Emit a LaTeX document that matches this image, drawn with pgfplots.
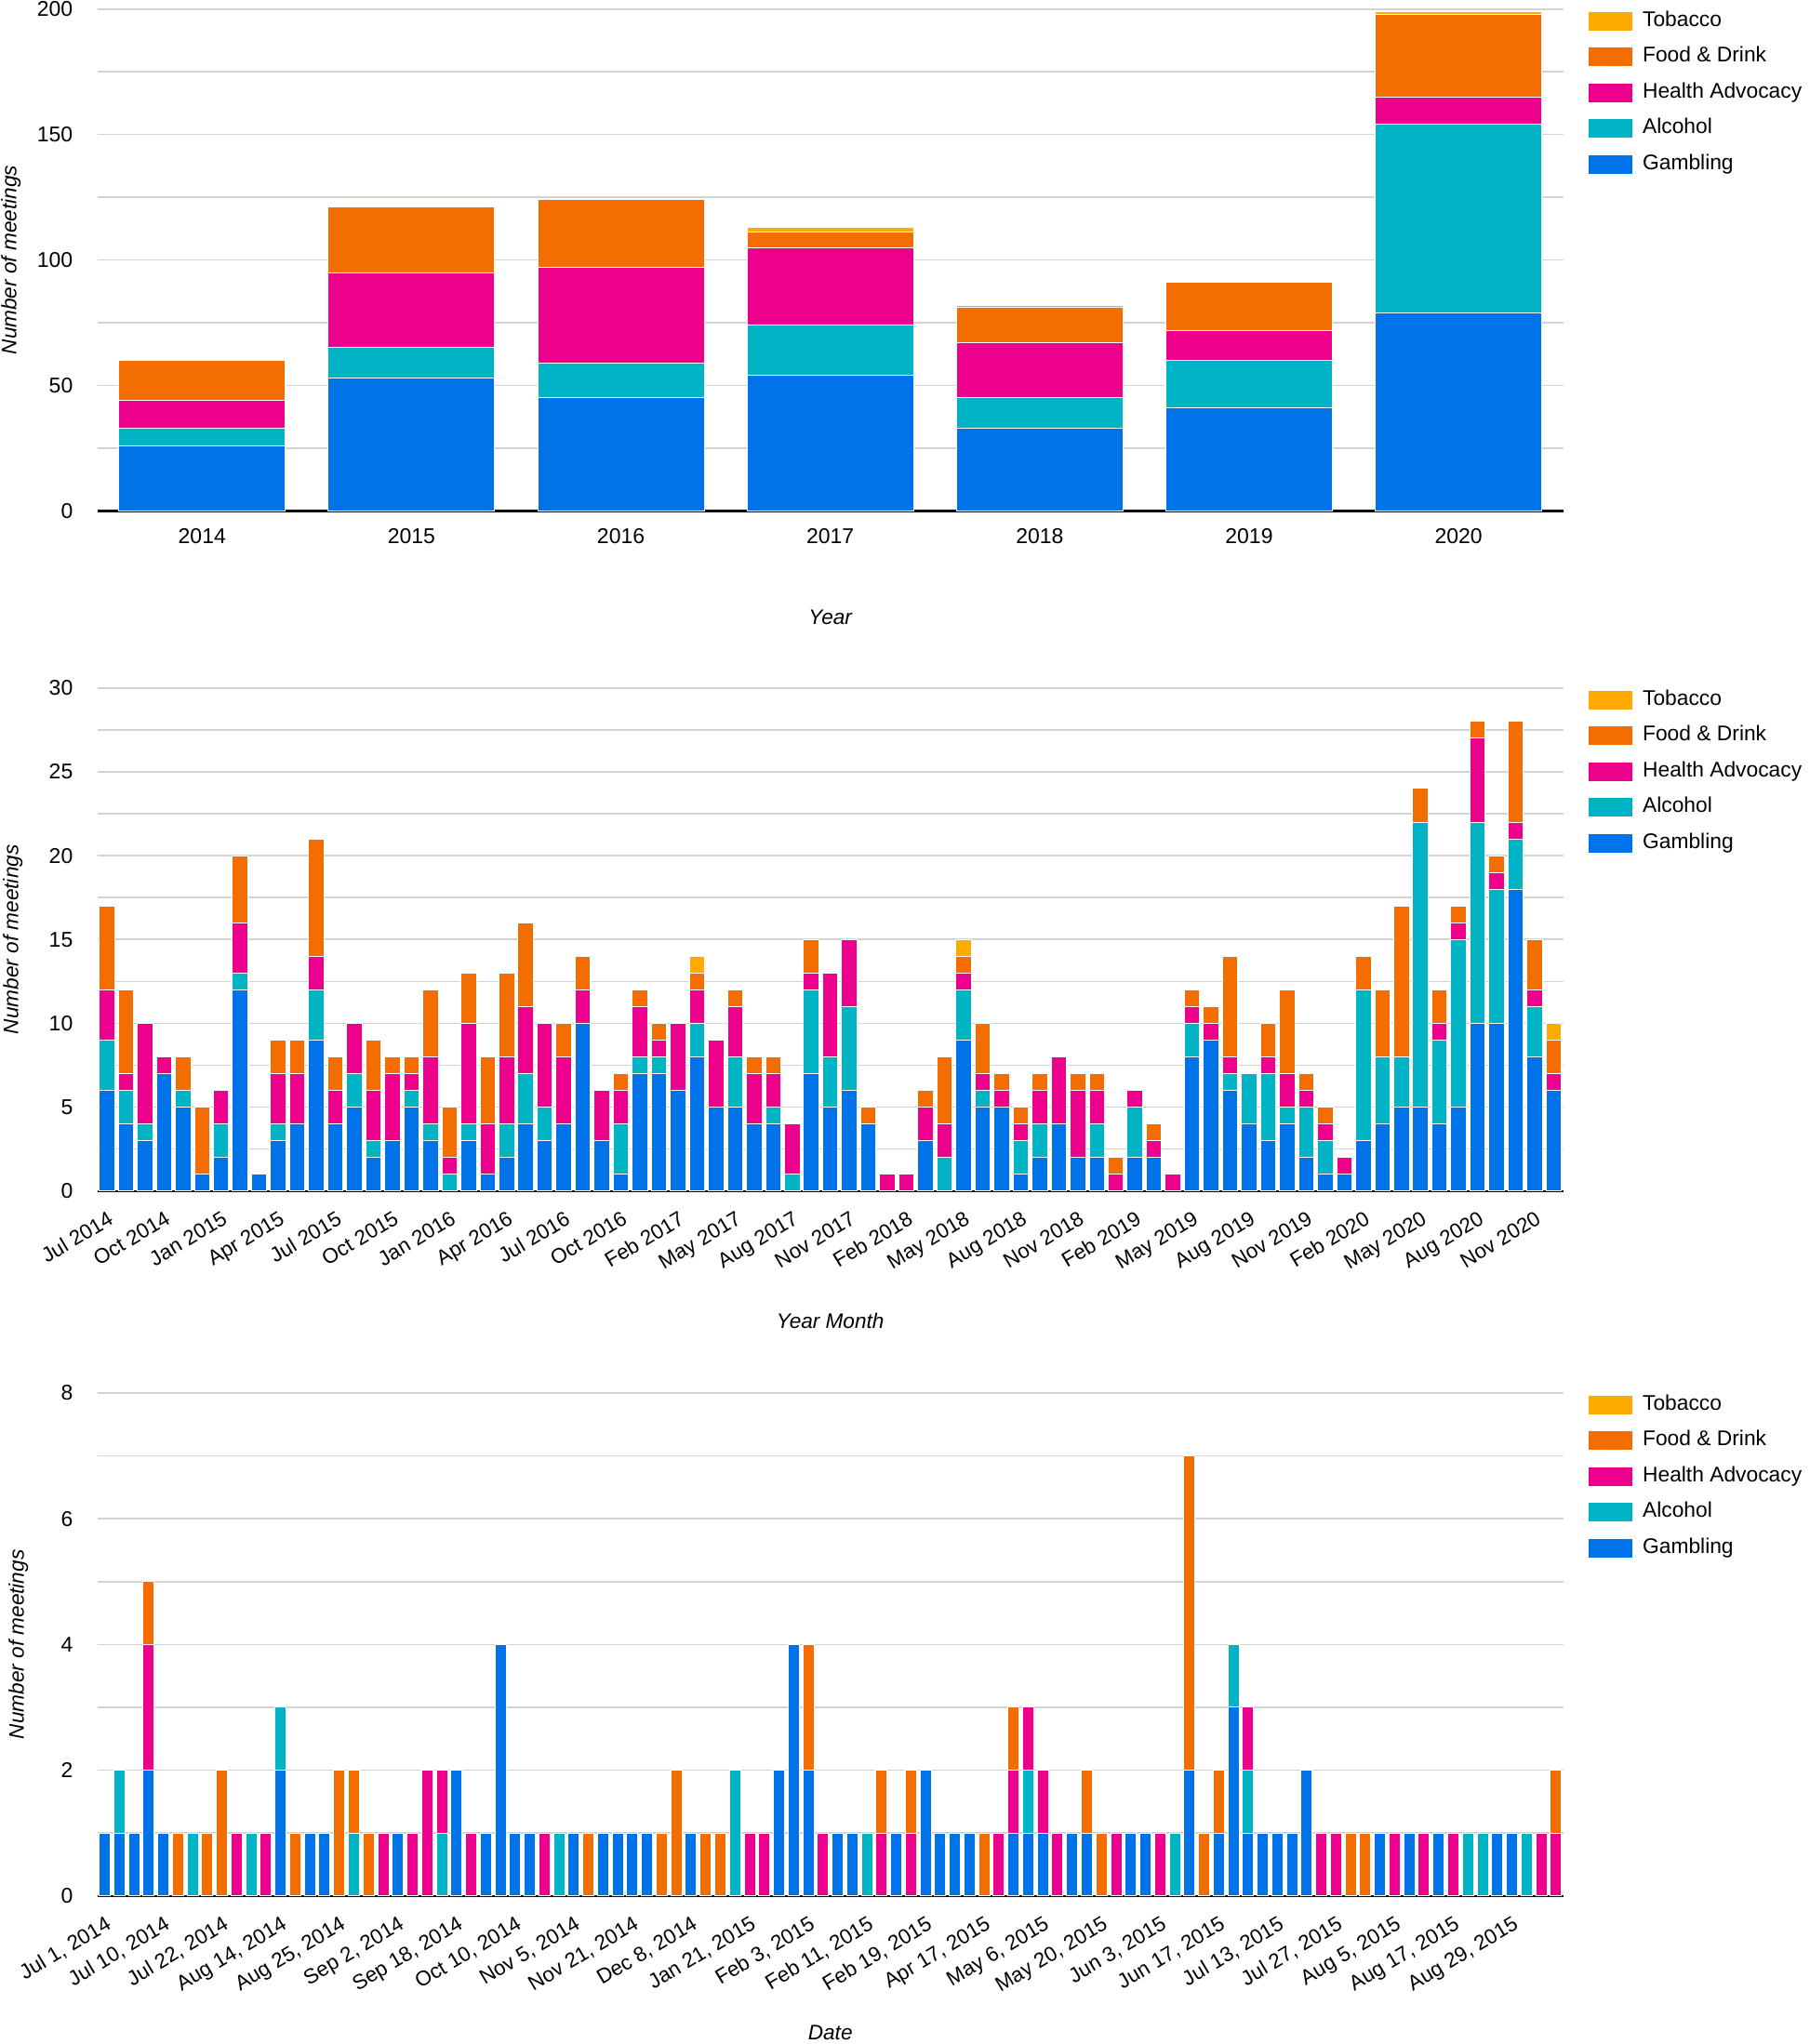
\documentclass[border=0pt]{standalone}
\usepackage{fontspec}
\setmainfont{Liberation Sans}
\usepackage{pgfplots}
\usepackage{pgfplotstable}
\pgfplotsset{compat=1.18}

\definecolor{cGam}{HTML}{0073E8}
\definecolor{cAlc}{HTML}{00B4C6}
\definecolor{cHea}{HTML}{EC008C}
\definecolor{cFood}{HTML}{F36D00}
\definecolor{cTob}{HTML}{FFAA00}
\definecolor{gridgray}{HTML}{D3D3D3}

\newcommand\tickfont{\fontsize{11.5}{13}\selectfont}
\newcommand\rotfont{\fontsize{11.2}{13}\selectfont}
\newcommand\legfont{\fontsize{11.4}{13}\selectfont}
\newcommand\titlefont{\fontsize{11.3}{13}\selectfont\itshape}

\pgfplotstableread{
x G A H F T
0 26 7 11 16 0
1 53 12 30 26 0
2 45 14 38 27 0
3 54 20 31 6 2
4 33 12 22 14 1
5 41 19 12 19 0
6 79 75 11 33 1
}\yearly

\pgfplotstableread{
x G A H F T
0 6 3 3 5 0
1 4 2 1 5 0
2 3 1 6 0 0
3 7 0 1 0 0
4 5 1 0 2 0
5 1 0 0 4 0
6 2 2 2 0 0
7 12 1 3 4 0
8 1 0 0 0 0
9 3 1 3 2 0
10 4 0 3 2 0
11 9 3 2 7 0
12 4 0 2 2 0
13 5 2 3 0 0
14 2 1 3 3 0
15 3 0 4 1 0
16 5 1 1 1 0
17 3 1 4 4 0
18 0 1 1 3 0
19 3 1 6 3 0
20 1 0 3 4 0
21 2 2 4 5 0
22 4 3 4 5 0
23 3 2 5 0 0
24 4 0 4 2 0
25 10 0 2 2 0
26 3 0 3 0 0
27 1 3 2 1 0
28 7 1 3 1 0
29 7 1 1 1 0
30 6 0 4 0 0
31 8 2 2 1 1
32 5 0 4 0 0
33 5 3 3 1 0
34 4 0 3 1 0
35 4 1 2 1 0
36 0 1 3 0 0
37 7 5 1 2 0
38 5 3 5 0 0
39 6 5 4 0 0
40 4 0 0 1 0
41 0 0 1 0 0
42 0 0 1 0 0
43 3 0 2 1 0
44 0 2 2 4 0
45 9 3 1 1 1
46 5 1 1 3 0
47 5 0 1 1 0
48 1 2 1 1 0
49 2 2 2 1 0
50 4 0 4 0 0
51 2 0 4 1 0
52 2 2 2 1 0
53 0 0 1 1 0
54 2 3 1 0 0
55 2 0 1 1 0
56 0 0 1 0 0
57 8 2 1 1 0
58 9 0 1 1 0
59 6 1 1 6 0
60 4 3 0 0 0
61 3 4 1 2 0
62 4 1 2 5 0
63 2 3 1 1 0
64 1 2 1 1 0
65 1 0 1 0 0
66 3 9 0 2 0
67 4 4 0 4 0
68 5 3 0 9 0
69 5 17 0 2 0
70 4 5 1 2 0
71 5 10 1 1 0
72 10 12 5 1 0
73 10 8 1 1 0
74 18 3 1 6 0
75 8 3 1 3 0
76 6 0 1 2 1
}\monthly

\pgfplotstableread{
x G A H F T
0 1 0 0 0 0
1 1 1 0 0 0
2 1 0 0 0 0
3 2 0 2 1 0
4 1 0 0 0 0
5 0 0 0 1 0
6 0 1 0 0 0
7 0 0 0 1 0
8 0 0 0 2 0
9 0 0 1 0 0
10 0 1 0 0 0
11 0 0 1 0 0
12 2 1 0 0 0
13 0 0 0 1 0
14 1 0 0 0 0
15 1 0 0 0 0
16 0 0 0 2 0
17 0 1 0 1 0
18 0 0 0 1 0
19 0 0 1 0 0
20 1 0 0 0 0
21 0 0 1 0 0
22 0 0 2 0 0
23 0 1 1 0 0
24 2 0 0 0 0
25 0 0 1 0 0
26 1 0 0 0 0
27 4 0 0 0 0
28 1 0 0 0 0
29 1 0 0 0 0
30 0 0 1 0 0
31 0 1 0 0 0
32 1 0 0 0 0
33 0 0 0 1 0
34 1 0 0 0 0
35 1 0 0 0 0
36 1 0 0 0 0
37 1 0 0 0 0
38 0 0 0 1 0
39 0 0 0 2 0
40 1 0 0 0 0
41 0 0 0 1 0
42 0 0 0 1 0
43 0 2 0 0 0
44 0 0 1 0 0
45 0 0 1 0 0
46 2 0 0 0 0
47 4 0 0 0 0
48 2 0 0 2 0
49 0 0 1 0 0
50 1 0 0 0 0
51 1 0 0 0 0
52 0 1 0 0 0
53 0 0 1 1 0
54 1 0 0 0 0
55 0 0 1 1 0
56 2 0 0 0 0
57 1 0 0 0 0
58 1 0 0 0 0
59 1 0 0 0 0
60 0 0 0 1 0
61 0 0 1 0 0
62 1 0 1 1 0
63 1 1 1 0 0
64 1 0 1 0 0
65 0 0 1 0 0
66 1 0 0 0 0
67 1 0 0 1 0
68 0 0 0 1 0
69 0 0 1 0 0
70 1 0 0 0 0
71 1 0 0 0 0
72 0 0 1 0 0
73 0 1 0 0 0
74 2 0 0 5 0
75 0 0 0 1 0
76 1 0 0 1 0
77 3 1 0 0 0
78 1 1 1 0 0
79 1 0 0 0 0
80 1 0 0 0 0
81 1 0 0 0 0
82 2 0 0 0 0
83 0 0 1 0 0
84 0 0 1 0 0
85 0 0 0 1 0
86 0 0 0 1 0
87 1 0 0 0 0
88 0 0 1 0 0
89 1 0 0 0 0
90 0 0 1 0 0
91 1 0 0 0 0
92 0 0 1 0 0
93 0 1 0 0 0
94 0 1 0 0 0
95 1 0 0 0 0
96 1 0 0 0 0
97 0 1 0 0 0
98 0 0 1 0 0
99 0 0 1 1 0
}\daily

\pgfplotsset{
  meet/.style={
    scale only axis, width=788pt,
    ybar stacked,
    /pgf/number format/assume math mode=true,
    axis x line*=bottom, axis y line*=left,
    y axis line style={draw=none},
    x axis line style={-, black, line width=1.2pt},
    major tick length=0pt, minor tick length=0pt,
    xtick style={draw=none}, ytick style={draw=none},
    ymajorgrids, yminorgrids, minor y tick num=1,
    major grid style={draw=gridgray, line width=0.8pt},
    minor grid style={draw=gridgray, line width=0.8pt},
    ymin=0, enlargelimits=false,
    tick label style={font=\tickfont},
    yticklabel style={anchor=east, inner sep=0pt, xshift=-13pt},
    every axis plot/.append style={draw=white, line width=0.5pt},
    reverse legend,
    legend cell align=left,
    legend image code/.code={\fill[##1] (0pt,-5.25pt) rectangle (24pt,5.25pt);},
    legend style={at={(1,1)}, anchor=north west, xshift=13pt, yshift=-0.8pt,
      draw=none, fill=none, inner sep=0pt, font=\legfont,
      row sep=8.25pt, column sep=5pt,
      nodes={inner sep=0pt, text height=8pt, text depth=2.5pt}},
  },
  rotlabels/.style={xticklabel style={font=\rotfont, yshift=-10pt, rotate=31, anchor=north east, inner sep=0pt}},
}

\begin{document}
\begin{tikzpicture}
\path[use as bounding box] (0,0) rectangle (972.5pt,-1099pt);

% ---------- Year ----------
\begin{axis}[meet, name=ax1, at={(52.35pt,-274.65pt)}, anchor=south west,
  height=269.75pt, ymax=200, ytick={0,50,...,200},
  xmin=-0.5, xmax=6.5, xtick={0,...,6},
  xticklabels={2014,2015,2016,2017,2018,2019,2020},
  xticklabel style={anchor=center, yshift=-13.5pt},
  bar width=89.5pt]
\addplot[fill=cGam] table[x=x,y=G]{\yearly}; \addlegendentry{Gambling}
\addplot[fill=cAlc] table[x=x,y=A]{\yearly}; \addlegendentry{Alcohol}
\addplot[fill=cHea] table[x=x,y=H]{\yearly}; \addlegendentry{Health Advocacy}
\addplot[fill=cFood] table[x=x,y=F]{\yearly}; \addlegendentry{Food \& Drink}
\addplot[fill=cTob] table[x=x,y=T]{\yearly}; \addlegendentry{Tobacco}
\end{axis}
\node[font=\titlefont] at ([yshift=-57.4pt]ax1.south) {Year};
\node[font=\titlefont, rotate=90] at ([xshift=-46.5pt]ax1.west) {Number of meetings};

% ---------- Year Month ----------
\begin{axis}[meet, rotlabels, name=ax2, at={(52.35pt,-640.35pt)}, anchor=south west,
  height=270.45pt, ymax=30, ytick={0,5,...,30},
  xmin=-0.5, xmax=76.5, xtick={0,3,...,75},
  xticklabels={Jul 2014,Oct 2014,Jan 2015,Apr 2015,Jul 2015,Oct 2015,Jan 2016,Apr 2016,Jul 2016,Oct 2016,Feb 2017,May 2017,Aug 2017,Nov 2017,Feb 2018,May 2018,Aug 2018,Nov 2018,Feb 2019,May 2019,Aug 2019,Nov 2019,Feb 2020,May 2020,Aug 2020,Nov 2020},
  bar width=8.25pt]
\addplot[fill=cGam] table[x=x,y=G]{\monthly}; \addlegendentry{Gambling}
\addplot[fill=cAlc] table[x=x,y=A]{\monthly}; \addlegendentry{Alcohol}
\addplot[fill=cHea] table[x=x,y=H]{\monthly}; \addlegendentry{Health Advocacy}
\addplot[fill=cFood] table[x=x,y=F]{\monthly}; \addlegendentry{Food \& Drink}
\addplot[fill=cTob] table[x=x,y=T]{\monthly}; \addlegendentry{Tobacco}
\end{axis}
\node[font=\titlefont] at ([yshift=-70pt]ax2.south) {Year Month};
\node[font=\titlefont, rotate=90] at ([xshift=-45.4pt]ax2.west) {Number of meetings};

% ---------- Date ----------
\begin{axis}[meet, rotlabels, name=ax3, at={(52.35pt,-1019.4pt)}, anchor=south west,
  height=270.45pt, ymax=8, ytick={0,2,...,8},
  xmin=-0.5, xmax=99.5, xtick={0,4,...,96},
  xticklabels={{Jul 1, 2014},{Jul 10, 2014},{Jul 22, 2014},{Aug 14, 2014},{Aug 25, 2014},{Sep 2, 2014},{Sep 18, 2014},{Oct 10, 2014},{Nov 5, 2014},{Nov 21, 2014},{Dec 8, 2014},{Jan 21, 2015},{Feb 3, 2015},{Feb 11, 2015},{Feb 19, 2015},{Apr 17, 2015},{May 6, 2015},{May 20, 2015},{Jun 3, 2015},{Jun 17, 2015},{Jul 13, 2015},{Jul 27, 2015},{Aug 5, 2015},{Aug 17, 2015},{Aug 29, 2015}},
  bar width=6pt]
\addplot[fill=cGam] table[x=x,y=G]{\daily}; \addlegendentry{Gambling}
\addplot[fill=cAlc] table[x=x,y=A]{\daily}; \addlegendentry{Alcohol}
\addplot[fill=cHea] table[x=x,y=H]{\daily}; \addlegendentry{Health Advocacy}
\addplot[fill=cFood] table[x=x,y=F]{\daily}; \addlegendentry{Food \& Drink}
\addplot[fill=cTob] table[x=x,y=T]{\daily}; \addlegendentry{Tobacco}
\end{axis}
\node[font=\titlefont] at ([yshift=-73.4pt]ax3.south) {Date};
\node[font=\titlefont, rotate=90] at ([xshift=-42.5pt]ax3.west) {Number of meetings};
\end{tikzpicture}
\end{document}
